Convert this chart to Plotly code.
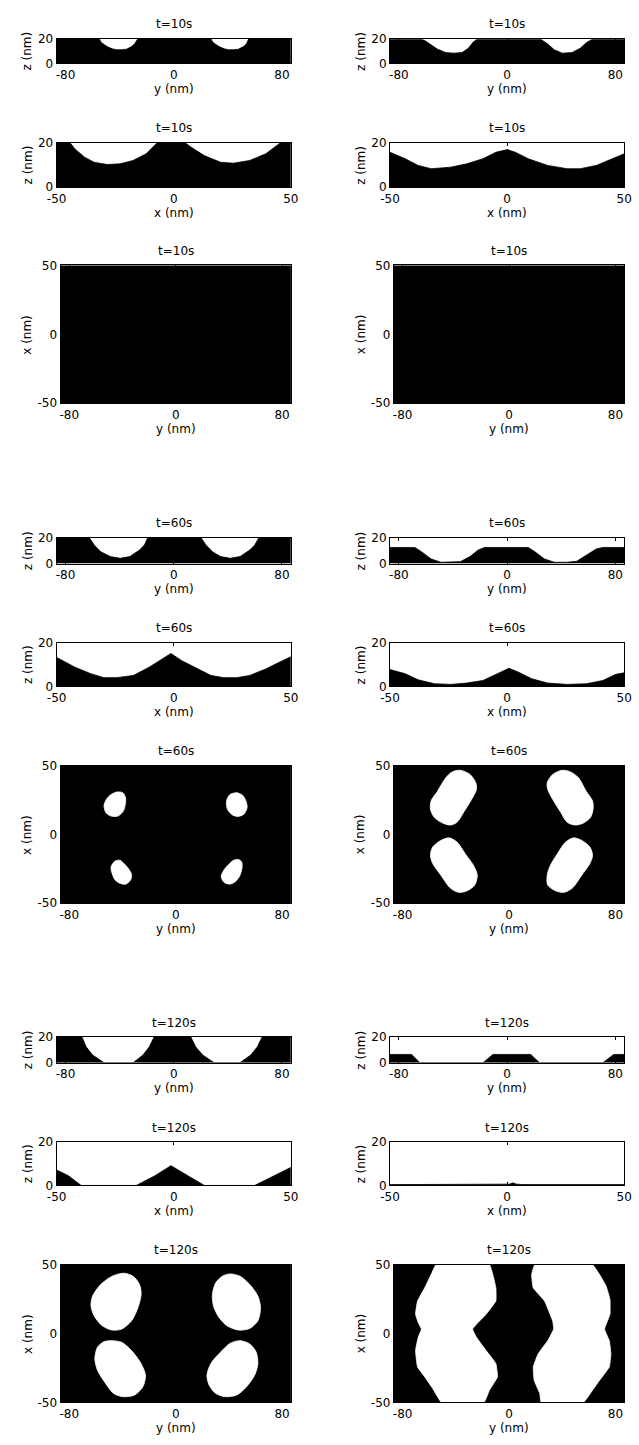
import plotly.graph_objects as go

# ---------------- data ----------------
TIME_LABELS = ["t=10s", "t=60s", "t=120s"]
Y_TICKS = [-80, 0, 80]
X_TICKS = [-50, 0, 50]
Z_TICKS = [0, 20]
Y_RANGE = [-86.6, 86.6]
X_RANGE = [-50, 50]
Z_RANGE = [0, 20]

# --- t=10s profiles ---
T10_YZ_L_Y = [-86.6, -55.2, -53.6, -49.3, -45.5, -42.0, -38.4, -34.9, -30.9, -28.9, -26.5,
              27.4, 29.0, 33.5, 37.3, 40.6, 44.2, 47.8, 51.9, 53.8, 55.5, 86.6]
T10_YZ_L_Z = [20, 20, 17, 13.6, 11.8, 11, 11.1, 11.5, 13.8, 16, 20,
              20, 17, 13.6, 11.8, 11, 11.1, 11.5, 13.8, 16, 20, 20]
T10_YZ_R_Y = [-86.6, -62.8, -60.9, -56.2, -51.4, -45.4, -39.4, -33.4, -28.6, -25.0, -22.6,
              25.3, 30.1, 34.9, 40.8, 48.1, 54.1, 58.8, 62.5, 86.6]
T10_YZ_R_Z = [19.2, 19.2, 18.5, 15, 11.5, 8.8, 8.3, 8.8, 12.3, 17.4, 19.2,
              19.2, 15.7, 11, 8.3, 8.8, 12.3, 17, 19.2, 19.2]
T10_XZ_L_X = [-50, -44.3, -42.2, -38.1, -34, -28.4, -22.9, -17.4, -11.8, -7,
              4.8, 7.5, 13, 20, 25.5, 32.4, 39.3, 45.6, 50]
T10_XZ_L_Z = [20, 20, 17.2, 13.5, 11.2, 10.2, 10.5, 12, 15, 20,
              20, 17.9, 14.2, 11.2, 10.8, 12, 15, 20, 20]
T10_XZ_R_X = [-50, -43.5, -38, -32.4, -24.1, -17.2, -10.3, -4.8, 0.1, 3.5,
              9, 17.3, 25.6, 31.2, 38.1, 45, 50]
T10_XZ_R_Z = [15.7, 12.8, 9.8, 8.3, 9, 10.5, 12.8, 15.7, 16.9, 15.7,
              12.8, 9.8, 8.3, 8.3, 9.8, 12.8, 15]

# --- t=60s profiles ---
T60_YZ_L_Y = [-86.6, -62.4, -58.8, -54.0, -46.9, -39.6, -32.5, -25.3, -21.7, -19.3,
              20.2, 23.8, 28.6, 34.6, 41.8, 49.0, 56.2, 59.9, 62.9, 86.6]
T60_YZ_L_Z = [20, 20, 14.4, 9.2, 5.4, 4.1, 5.4, 10.5, 14.4, 20,
              20, 14.4, 9.2, 5.4, 4.1, 5.4, 10.5, 14.4, 20, 20]
T60_YZ_R_Y = [-86.6, -68.2, -63.3, -56.2, -48.9, -41.8, -34.6, -27.4, -21.4, -16.7,
              15.7, 20.5, 27.6, 34.9, 44.4, 51.5, 58.8, 65.9, 70.7, 86.6]
T60_YZ_R_Z = [12.5, 12.5, 9.2, 3.6, 1, 1, 1.5, 5.4, 10.5, 12.5,
              12.5, 9.2, 3.6, 1, 1, 1.8, 6.7, 11.3, 12.5, 12.5]
T60_XZ_L_X = [-50, -42.2, -35.4, -29.8, -24.3, -17.3, -10.5, -4.9, -1.2, 3.4,
              8.9, 15.9, 21.4, 26.9, 32.4, 39.3, 44.9, 50]
T60_XZ_L_Z = [13.3, 8.8, 5.8, 4, 4, 5, 8.8, 12.6, 15.1, 11.8,
              8.8, 5, 4, 4, 5, 8, 11, 13.6]
T60_XZ_R_X = [-50, -43.5, -38, -31, -24.1, -17.2, -10.3, -4.8, 0.8, 4.9,
              10.5, 17.3, 25.6, 33.9, 40.9, 46.4, 50]
T60_XZ_R_Z = [7.7, 5.8, 3, 1.2, 0.9, 1.5, 2.7, 5.3, 8.3, 6.5,
              3.5, 1.5, 0.9, 1.2, 2.7, 5.5, 6.2]

# --- t=120s profiles ---
T120_YZ_L_Y = [-86.6, -67.9, -64.8, -60.0, -51.6, -30.0, -22.8, -18.1, -14.5,
               12.6, 16.2, 21.4, 29.8, 49.0, 56.9, 61.8, 65.4, 86.6]
T120_YZ_L_Z = [20, 20, 12.3, 5.9, 0, 0, 5.9, 12.3, 20,
               20, 12.3, 5.9, 0, 0, 5.9, 12.3, 20, 20]
T120_YZ_R_Y = [-86.6, -70.6, -64.5, -17.8, -10.5, 17.5, 23.9, 70.9, 78.8, 86.6]
T120_YZ_R_Z = [6.4, 6.4, 0, 0, 6.4, 6.4, 0, 0, 6.4, 6.4]
T120_XZ_L_X = [-50, -45, -39.5, -16, -8, -1.2, 6, 13.1, 34.5, 42, 50]
T120_XZ_L_Z = [7.1, 4.5, 0, 0, 4.5, 9.1, 4.5, 0, 0, 4, 8.3]
T120_XZ_R_X = [-50, -2, 1, 2.5, 4, 7, 50]
T120_XZ_R_Z = [0.4, 0.4, 0.6, 1.2, 0.6, 0.4, 0.4]

# --- t=60s plan views (white pores): y values, x values ---
T60_MAP_L_B1_Y = [-44.2, -39.8, -37.7, -37.9, -39.3, -43.0, -47.8, -52.3, -53.9, -52.1, -48.4]
T60_MAP_L_B1_X = [30.8, 30.3, 26.7, 21.9, 17.1, 13.5, 13.1, 15.5, 20.7, 25.5, 29.1]
T60_MAP_L_B2_Y = [41.0, 45.9, 50.3, 52.8, 53.7, 51.3, 47.2, 43.0, 39.1, 38.1, 39.1]
T60_MAP_L_B2_X = [29.1, 30.3, 28.4, 24.3, 19.5, 14.7, 13.1, 14, 17.9, 23.1, 26.7]
T60_MAP_L_B3_Y = [-45.5, -41.8, -38.9, -35.6, -33.2, -34.0, -37.3, -41.8, -45.5, -47.8, -48.6]
T60_MAP_L_B3_X = [-19.3, -18.8, -21.2, -24.8, -29.1, -33.2, -36.1, -35.6, -33.2, -28.4, -23.6]
T60_MAP_L_B4_Y = [43.5, 47.2, 49.6, 49.8, 47.8, 44.7, 41.0, 36.7, 34.2, 36.2, 39.8]
T60_MAP_L_B4_X = [-18.8, -18.3, -20, -24.8, -30.8, -34.4, -36.1, -35.1, -30.8, -26, -21.9]

T60_MAP_R_B1_Y = [-36.7, -29.3, -25.0, -24.5, -28.1, -34.2, -39.1, -43.9, -50.0, -56.2, -59.1, -58.6, -53.7, -47.6, -42.8]
T60_MAP_R_B1_X = [46.6, 43.5, 37.5, 32.7, 25.5, 16, 8.8, 6.8, 8.3, 12.4, 18.3, 24.3, 31.5, 41.1, 45.4]
T60_MAP_R_B2_Y = [40.1, 32.8, 28.7, 29.1, 32.8, 38.9, 43.7, 49.8, 56.0, 61.3, 63.2, 62.8, 57.9, 52.3, 46.2]
T60_MAP_R_B2_X = [46.6, 43.5, 37.5, 32.7, 25.5, 16, 8.8, 6.8, 8.3, 12.4, 18.3, 24.3, 31.5, 41.1, 45.4]
T60_MAP_R_B3_Y = [-45.1, -51.3, -57.4, -59.1, -57.4, -51.3, -43.9, -37.9, -31.8, -25.8, -23.9, -26.8, -33.0, -39.1]
T60_MAP_R_B3_X = [-2.5, -4.4, -9.2, -15.2, -21.2, -29.6, -39.2, -42.1, -41.1, -36.8, -29.6, -22.4, -14, -5.6]
T60_MAP_R_B4_Y = [48.6, 54.7, 60.8, 62.8, 60.8, 54.7, 47.4, 41.4, 35.3, 29.1, 28.7, 31.1, 36.4, 42.5]
T60_MAP_R_B4_X = [-2.5, -4.4, -9.2, -15.2, -21.2, -29.6, -39.2, -42.1, -41.1, -36.8, -29.6, -22.4, -14, -5.6]

# --- t=120s plan views ---
T120_MAP_L_B1_Y = [-39.3, -32.0, -27.2, -26.0, -28.4, -33.2, -40.6, -47.8, -55.2, -61.3, -63.7, -62.5, -56.4, -47.8]
T120_MAP_L_B1_X = [43.8, 41.6, 35.6, 28.4, 18.8, 9.2, 3.2, 2.5, 5.6, 12.8, 20, 27.2, 35.6, 41.6]
T120_MAP_L_B2_Y = [41.0, 48.4, 55.7, 61.8, 63.8, 61.8, 55.7, 47.2, 38.6, 32.6, 28.4, 27.6, 30.1, 35.0]
T120_MAP_L_B2_X = [43.3, 41.6, 35.6, 27.2, 18.8, 9.2, 3.7, 2.5, 5.6, 11.6, 20, 28.4, 36.8, 41.6]
T120_MAP_L_B3_Y = [-47.8, -40.6, -33.2, -26.0, -22.7, -24.7, -30.9, -39.3, -46.7, -52.7, -58.8, -60.8, -58.8, -53.9]
T120_MAP_L_B3_X = [-5.2, -6.4, -12.4, -21.9, -30.4, -38.7, -44.7, -45.9, -43.5, -36.3, -26.7, -18.3, -9.9, -5.9]
T120_MAP_L_B4_Y = [48.4, 55.7, 60.5, 61.8, 59.3, 53.3, 45.9, 37.5, 30.1, 25.2, 23.5, 26.4, 33.8, 41.0]
T120_MAP_L_B4_X = [-5.2, -7.6, -13.5, -21.9, -30.4, -38.7, -44.7, -45.9, -43.5, -37.6, -30.4, -21.9, -13.5, -7.1]

T120_MAP_R_B1_Y = [-54.9, -58.6, -63.4, -68.8, -70.3, -68.3, -65.9, -68.3, -70.3, -68.8, -63.4, -57.4, -50.8,
                   -18.8, -14.7, -8.7, -9.9, -17.2, -24.5, -27.4, -24.5, -17.2, -9.9, -9.9, -12.2, -14.7]
T120_MAP_R_B1_X = [50, 42.8, 33.2, 23.6, 14, 8, 3.2, -2.7, -12.4, -24.3, -31.5, -39.9, -50,
                   -50, -41.1, -31.5, -21.9, -12.4, -2.7, 3.2, 6.8, 14, 23.6, 33.2, 42.8, 50]
T120_MAP_R_B2_Y = [19.4, 17.0, 18.2, 26.7, 32.8, 33.6, 29.1, 21.9, 18.2, 18.9, 23.1, 24.2,
                   56.0, 62.0, 68.1, 75.4, 76.6, 75.4, 71.8, 75.9, 75.9, 73.0, 68.1, 62.8]
T120_MAP_R_B2_X = [50, 42.8, 33.2, 23.6, 9.2, 3.2, -5.2, -14.7, -24.3, -34, -43.5, -50,
                   -50, -42.3, -34, -24.3, -14.7, -5.2, 3.2, 14, 24.8, 34.4, 42.8, 50]

# ---------------- layout geometry (pixels) ----------------
W, H = 639, 1445
FONT = "DejaVu Sans, Arial, sans-serif"
FS = 12
ROWS_PX = [(32, 57), (137, 182), (261, 400),
           (536, 562), (642, 686), (766, 905),
           (1040, 1066), (1146, 1190), (1270, 1409)]
COL_LINE_PX = [(48, 289), (391, 632)]
COL_MAP_PX = [(52, 289), (395, 632)]
YLABEL_X_PX = [18, 361]

PROFILES = [
    [((T10_YZ_L_Y, T10_YZ_L_Z), (T10_YZ_R_Y, T10_YZ_R_Z)),
     ((T10_XZ_L_X, T10_XZ_L_Z), (T10_XZ_R_X, T10_XZ_R_Z))],
    [((T60_YZ_L_Y, T60_YZ_L_Z), (T60_YZ_R_Y, T60_YZ_R_Z)),
     ((T60_XZ_L_X, T60_XZ_L_Z), (T60_XZ_R_X, T60_XZ_R_Z))],
    [((T120_YZ_L_Y, T120_YZ_L_Z), (T120_YZ_R_Y, T120_YZ_R_Z)),
     ((T120_XZ_L_X, T120_XZ_L_Z), (T120_XZ_R_X, T120_XZ_R_Z))],
]
MAPS = [
    ([], []),
    ([(T60_MAP_L_B1_Y, T60_MAP_L_B1_X), (T60_MAP_L_B2_Y, T60_MAP_L_B2_X),
      (T60_MAP_L_B3_Y, T60_MAP_L_B3_X), (T60_MAP_L_B4_Y, T60_MAP_L_B4_X)],
     [(T60_MAP_R_B1_Y, T60_MAP_R_B1_X), (T60_MAP_R_B2_Y, T60_MAP_R_B2_X),
      (T60_MAP_R_B3_Y, T60_MAP_R_B3_X), (T60_MAP_R_B4_Y, T60_MAP_R_B4_X)]),
    ([(T120_MAP_L_B1_Y, T120_MAP_L_B1_X), (T120_MAP_L_B2_Y, T120_MAP_L_B2_X),
      (T120_MAP_L_B3_Y, T120_MAP_L_B3_X), (T120_MAP_L_B4_Y, T120_MAP_L_B4_X)],
     [(T120_MAP_R_B1_Y, T120_MAP_R_B1_X), (T120_MAP_R_B2_Y, T120_MAP_R_B2_X)]),
]
MAP_SMOOTH = [(0.8, 0.8), (0.8, 0.8), (0.8, 0.3)]

fig = go.Figure()
layout = dict(width=W, height=H, margin=dict(l=0, r=0, t=0, b=0),
              paper_bgcolor="white", plot_bgcolor="white", showlegend=False,
              font=dict(family=FONT, size=FS, color="black"))
annotations = []
shapes = []


def axis_common(rng, ticks, dom, anchor):
    return dict(domain=dom, anchor=anchor, range=rng, tickmode="array", tickvals=ticks,
                ticktext=[str(t) for t in ticks], showgrid=False, zeroline=False,
                showline=True, linecolor="black", linewidth=1, mirror="ticks",
                ticks="inside", ticklen=3, tickwidth=1, tickcolor="black",
                tickfont=dict(family=FONT, size=FS, color="black"), fixedrange=True)


def text(s, xpx, ypx, angle=0):
    annotations.append(dict(text=s, x=xpx / W, y=1 - ypx / H, xref="paper", yref="paper",
                            showarrow=False, xanchor="center", yanchor="middle",
                            textangle=angle, font=dict(family=FONT, size=FS, color="black")))


idx = 0
for b in range(3):
    for r in range(3):
        top, bot = ROWS_PX[3 * b + r]
        for c in range(2):
            idx += 1
            ax = "" if idx == 1 else str(idx)
            x0, x1 = (COL_MAP_PX if r == 2 else COL_LINE_PX)[c]
            xdom = [x0 / W, x1 / W]
            ydom = [1 - bot / H, 1 - top / H]
            if r == 0:
                xr, xt, yr, yt, xl, yl = Y_RANGE, Y_TICKS, Z_RANGE, Z_TICKS, "y (nm)", "z (nm)"
            elif r == 1:
                xr, xt, yr, yt, xl, yl = X_RANGE, X_TICKS, Z_RANGE, Z_TICKS, "x (nm)", "z (nm)"
            else:
                xr, xt, yr, yt, xl, yl = Y_RANGE, Y_TICKS, X_RANGE, X_TICKS, "y (nm)", "x (nm)"
            layout["xaxis" + ax] = axis_common(xr, xt, xdom, "y" + ax)
            layout["yaxis" + ax] = axis_common(yr, yt, ydom, "x" + ax)
            if r < 2:
                px, pz = PROFILES[b][r][c]
                fig.add_trace(go.Scatter(x=px, y=pz, mode="lines", fill="tozeroy",
                                         fillcolor="black", line=dict(color="black", width=0.8),
                                         xaxis="x" + ax, yaxis="y" + ax, hoverinfo="skip"))
            else:
                shapes.append(dict(type="rect", xref="x" + ax + " domain", yref="y" + ax + " domain",
                                   x0=0, x1=1, y0=0, y1=1, fillcolor="black",
                                   line=dict(width=0), layer="below"))
                # empty trace so that the subplot's axes are always drawn
                fig.add_trace(go.Scatter(x=[], y=[], mode="lines", xaxis="x" + ax, yaxis="y" + ax,
                                         hoverinfo="skip"))
                for (by, bx) in MAPS[b][c]:
                    fig.add_trace(go.Scatter(x=by + [by[0]], y=bx + [bx[0]], mode="lines",
                                             fill="toself", fillcolor="white",
                                             line=dict(color="white", width=0.8, shape="spline",
                                                       smoothing=MAP_SMOOTH[b][c]),
                                             xaxis="x" + ax, yaxis="y" + ax, hoverinfo="skip"))
            cx = (x0 + x1) / 2
            text(TIME_LABELS[b], cx, top - 14.5)
            text(xl, cx, bot + 26)
            text(yl, YLABEL_X_PX[c], (top + bot) / 2, angle=-90)

layout["annotations"] = annotations
layout["shapes"] = shapes
fig.update_layout(**layout)
fig.write_html("out.html", config={"displayModeBar": False},
               post_script="document.body.style.margin='0px';")
